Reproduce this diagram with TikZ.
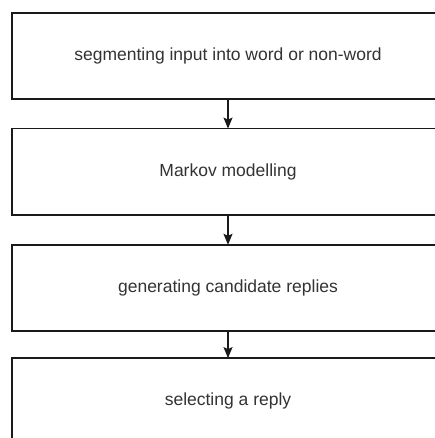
\documentclass[tikz,border=0pt]{standalone}
\usepackage{fontspec}
\setmainfont{Liberation Sans}
\usetikzlibrary{arrows.meta}
\definecolor{txt}{HTML}{333333}
\definecolor{edge}{HTML}{1A1A1A}
\begin{document}
\begin{tikzpicture}[x=1pt,y=1pt,
  stepbox/.style={rectangle, minimum width=432pt, minimum height=86pt,
    inner sep=0pt, text=txt, font=\fontsize{17.5}{20}\selectfont},
  boxline/.style={draw=edge, line width=1.6pt},
  flow/.style={draw=edge, line width=1.3pt, -{Stealth[length=11pt,width=9pt,inset=2pt]}}]
\fill[white] (0,0) rectangle (434,-438);
\useasboundingbox (0,0) rectangle (434,-438);
\node[stepbox] (b1) at (228,-56) {segmenting input into word or non-word};
\node[stepbox] (b2) at (228,-171.8) {Markov modelling};
\node[stepbox] (b3) at (228,-288) {generating candidate replies};
\node[stepbox] (b4) at (228,-401.3) {selecting a reply};
\foreach \b in {b1,b2,b3,b4}{
  \draw[boxline] (\b.north east) -- (\b.north west) -- (\b.south west) -- (\b.south east);
}
\draw[flow] (b1.south) -- (b2.north);
\draw[flow] (b2.south) -- (b3.north);
\draw[flow] (b3.south) -- (b4.north);
\end{tikzpicture}
\end{document}
